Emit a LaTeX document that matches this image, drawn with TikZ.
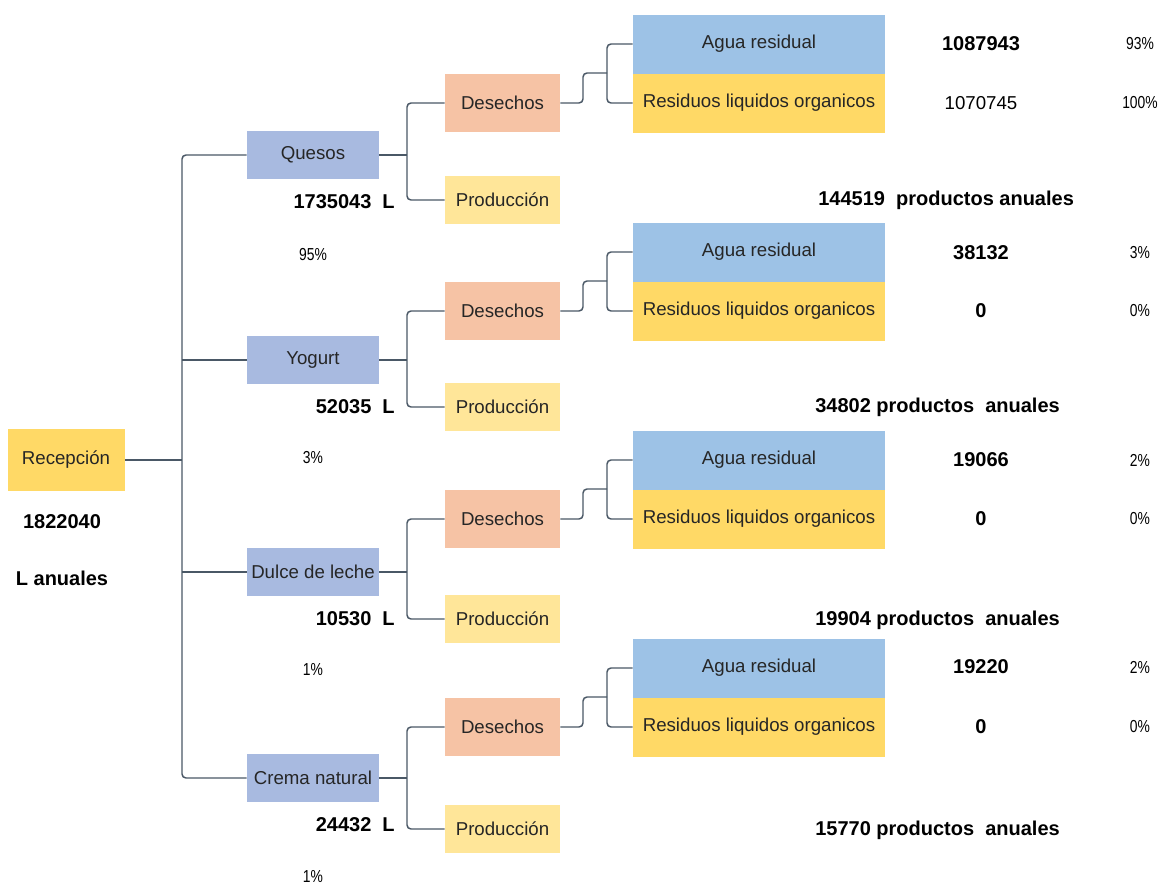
\documentclass[tikz,border=0pt]{standalone}
\usepackage{fontspec}
\setmainfont{Liberation Sans}
\newfontfamily\pctfont[FakeStretch=0.8]{Liberation Sans}
\usetikzlibrary{calc}
\definecolor{prodblue}{HTML}{A8BAE0}
\definecolor{aguablue}{HTML}{9DC2E6}
\definecolor{desorange}{HTML}{F6C3A5}
\definecolor{pyellow}{HTML}{FFE699}
\definecolor{ryellow}{HTML}{FFD966}
\definecolor{connc}{HTML}{4A5866}
\begin{document}
\begin{tikzpicture}[x=0.75pt,y=-0.75pt,
  box/.style={rectangle, inner sep=0pt, font=\fontsize{14}{16}\selectfont, text=black!85},
  recbox/.style={box, fill=ryellow, minimum width=87.75pt, minimum height=46.5pt},
  prodbox/.style={box, fill=prodblue, minimum width=99pt, minimum height=36pt},
  desbox/.style={box, fill=desorange, minimum width=86.25pt, minimum height=43.5pt},
  pcnbox/.style={box, fill=pyellow, minimum width=86.25pt, minimum height=36pt},
  aguabox/.style={box, fill=aguablue, minimum width=189pt, minimum height=44.25pt},
  resbox/.style={box, fill=ryellow, minimum width=189pt, minimum height=44.25pt},
  conn/.style={draw=connc, line width=1.1pt, rounded corners=3pt},
  bnum/.style={font=\fontsize{15}{18}\selectfont\bfseries, inner sep=0pt},
  rtxt/.style={font=\fontsize{14}{16}\selectfont, inner sep=0pt},
  pct/.style={font=\fontsize{13}{15}\pctfont, inner sep=0pt}]
\useasboundingbox (0,0) rectangle (1160,886);
\fill[white] (0,0) rectangle (1160,886);

% root
\node[recbox] (rec) at (66,460) {Recepción};
\node[bnum] (recn) at (62,522) {1822040};
\node[bnum] (recl) at (62,578) {L anuales};
\coordinate (mj) at (182,460);

\foreach \i/\yd/\yp/\yq/\pname/\lit/\pc/\ypc in {
  0/103/155/200/Quesos/1735043/95\%/255,
  1/311/360/407/Yogurt/52035/3\%/458,
  2/519/572/619/Dulce de leche/10530/1\%/670,
  3/727/778/829/Crema natural/24432/1\%/877}{
  \node[prodbox] (p\i) at (313,\yp) {\pname};
  \node[bnum, anchor=east] (lit\i) at (395,\yp+47) {\lit\ \ L};
  \node[pct] (pc\i) at (313,\ypc) {\pc};
  \node[desbox] (d\i) at (502.5,\yd) {Desechos};
  \node[pcnbox] (q\i) at (502.5,\yq) {Producción};
  \node[aguabox] (a\i) at (759,\yd-59) {Agua residual};
  \node[resbox] (r\i) at (759,\yd) {Residuos liquidos organicos};
  \coordinate (j\i) at (407,\yp);
  \draw[conn] (p\i.east) -- (j\i);
  \draw[conn] (d\i.west) -| (j\i) |- (q\i.west);
  \draw[conn] (d\i.east) -| (583,\yd-30) -- (607,\yd-30);
  \draw[conn] (a\i.west) -| (607,\yd-30) |- (r\i.west);
}

% main tree
\draw[conn] (rec.east) -- (mj);
\draw[conn] (p0.west) -| (mj) |- (p3.west);
\draw[conn] (p1.west) -- (p1.west -| mj);
\draw[conn] (p2.west) -- (p2.west -| mj);

% right column
\node[bnum] (v0a) at (981,44) {1087943};
\node[pct] (c0a) at (1140,44) {93\%};
\node[rtxt] (v0r) at (981,103) {1070745};
\node[pct] (c0r) at (1140,103) {100\%};
\node[bnum, anchor=west] (pr0) at (818,200) {144519\ \ productos anuales};

\node[bnum] (v1a) at (981,253) {38132};
\node[pct] (c1a) at (1140,253) {3\%};
\node[bnum] (v1r) at (981,311) {0};
\node[pct] (c1r) at (1140,311) {0\%};
\node[bnum, anchor=west] (pr1) at (815,407) {34802 productos\ \ anuales};

\node[bnum] (v2a) at (981,460) {19066};
\node[pct] (c2a) at (1140,460) {2\%};
\node[bnum] (v2r) at (981,519) {0};
\node[pct] (c2r) at (1140,519) {0\%};
\node[bnum, anchor=west] (pr2) at (815,620) {19904 productos\ \ anuales};

\node[bnum] (v3a) at (981,667) {19220};
\node[pct] (c3a) at (1140,667) {2\%};
\node[bnum] (v3r) at (981,727) {0};
\node[pct] (c3r) at (1140,727) {0\%};
\node[bnum, anchor=west] (pr3) at (815,830) {15770 productos\ \ anuales};
\end{tikzpicture}
\end{document}
